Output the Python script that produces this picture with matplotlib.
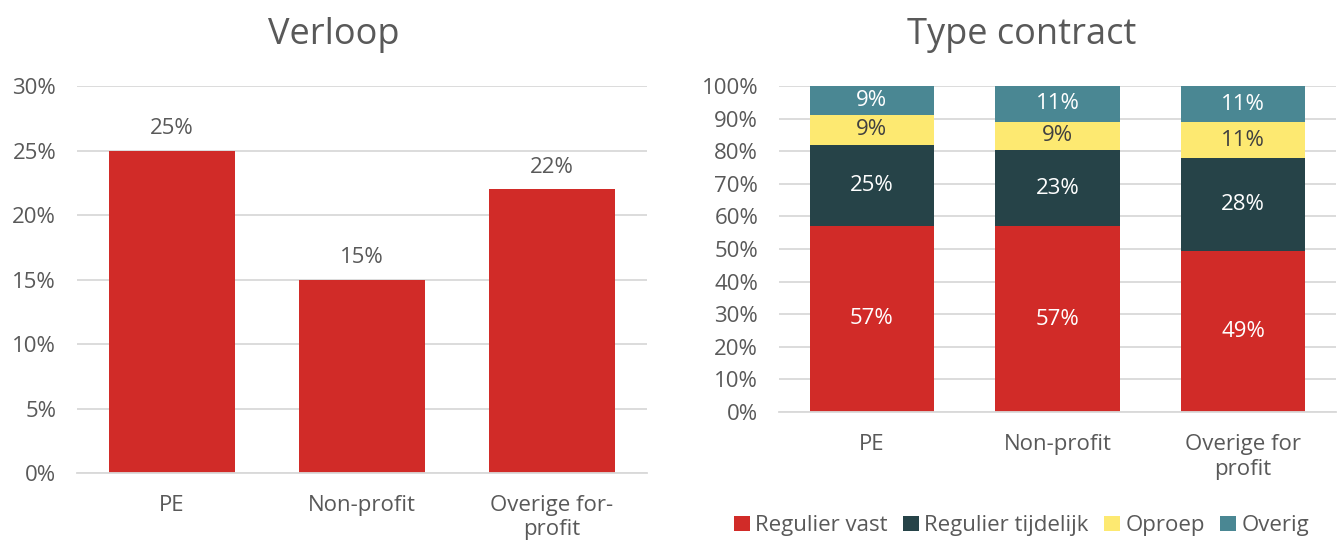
import matplotlib
matplotlib.use("Agg")
import matplotlib.pyplot as plt
from matplotlib.patches import Patch
from matplotlib import font_manager

# Fonts
fams = {f.name for f in font_manager.fontManager.ttflist}
base_font = "Open Sans" if "Open Sans" in fams else "DejaVu Sans"
plt.rcParams["font.family"] = [base_font, "DejaVu Sans"]
plt.rcParams["font.weight"] = "normal"

TEXT = "#595959"
GRID = "#D9D9D9"
RED = "#D12B28"
DARK = "#264348"
YELLOW = "#FDE971"
TEAL = "#4A8793"

# Verloop data
verloop_categories = ["PE", "Non-profit", "Overige for-\nprofit"]
verloop_values = [25, 15, 22]
verloop_ticks = [0, 5, 10, 15, 20, 25, 30]

# Type contract data (share in %)
contract_categories = ["PE", "Non-profit", "Overige for\nprofit"]
regulier_vast = [57.1, 57.0, 49.4]
regulier_tijdelijk = [24.8, 23.4, 28.4]
oproep = [9.2, 8.6, 11.1]
overig = [8.9, 11.0, 11.1]
contract_series = ["Regulier vast", "Regulier tijdelijk", "Oproep", "Overig"]
contract_ticks = list(range(0, 101, 10))

FS = 16
fig = plt.figure(figsize=(13.39, 5.42), dpi=100)

def style_axes(ax):
    for s in ["left", "right", "top"]:
        ax.spines[s].set_visible(False)
    ax.spines["bottom"].set_color(GRID)
    ax.spines["bottom"].set_linewidth(1.3)
    ax.yaxis.grid(True, color=GRID, linewidth=1.3)
    ax.set_axisbelow(True)
    ax.tick_params(axis="both", length=0, colors=TEXT, labelsize=FS)
    ax.tick_params(axis="y", pad=15)
    ax.tick_params(axis="x", pad=16)

# Left: Verloop
ax1 = fig.add_axes([0.0575, 0.1273, 0.4257, 0.714])
x1 = list(range(len(verloop_categories)))
bars = ax1.bar(x1, verloop_values, width=0.663, color=RED, zorder=2)
ax1.set_xlim(-0.5, 2.5)
ax1.set_ylim(0, 30)
ax1.set_yticks(verloop_ticks)
ax1.set_yticklabels([f"{t}%" for t in verloop_ticks])
ax1.set_xticks(x1)
ax1.set_xticklabels(verloop_categories, linespacing=1.2)
style_axes(ax1)
for b, v in zip(bars, verloop_values):
    ax1.annotate(f"{v:.0f}%", (b.get_x() + b.get_width() / 2, v),
                 xytext=(0, 8), textcoords="offset points",
                 ha="center", va="bottom", fontsize=FS, color=TEXT)
fig.text(0.249, 0.935, "Verloop", ha="center", va="center", fontsize=26, color=TEXT)

# Right: Type contract (stacked)
ax2 = fig.add_axes([0.5818, 0.2399, 0.416, 0.6015])
x2 = list(range(len(contract_categories)))
stack = [regulier_vast, regulier_tijdelijk, oproep, overig]
colors = [RED, DARK, YELLOW, TEAL]
label_colors = ["white", "white", "#404040", "white"]
bottoms = [0.0] * len(x2)
for vals, col, lc in zip(stack, colors, label_colors):
    rects = ax2.bar(x2, vals, bottom=bottoms, width=0.67, color=col, zorder=2)
    for r, v, b in zip(rects, vals, bottoms):
        ax2.text(r.get_x() + r.get_width() / 2, b + v / 2, f"{v:.0f}%",
                 ha="center", va="center", fontsize=FS, color=lc, zorder=3)
    bottoms = [b + v for b, v in zip(bottoms, vals)]
ax2.set_xlim(-0.5, 2.5)
ax2.set_ylim(0, 100)
ax2.set_yticks(contract_ticks)
ax2.set_yticklabels([f"{t}%" for t in contract_ticks])
ax2.set_xticks(x2)
ax2.set_xticklabels(contract_categories, linespacing=1.25)
style_axes(ax2)
fig.text(0.763, 0.935, "Type contract", ha="center", va="center", fontsize=26, color=TEXT)

handles = [Patch(facecolor=c, edgecolor="none") for c in colors]
fig.legend(handles, contract_series, loc="center", bbox_to_anchor=(0.763, 0.03),
           ncol=4, frameon=False, fontsize=16, labelcolor=TEXT,
           handlelength=0.7, handleheight=0.7, handletextpad=0.25,
           columnspacing=0.7)

fig.savefig("out.png", dpi=100)
